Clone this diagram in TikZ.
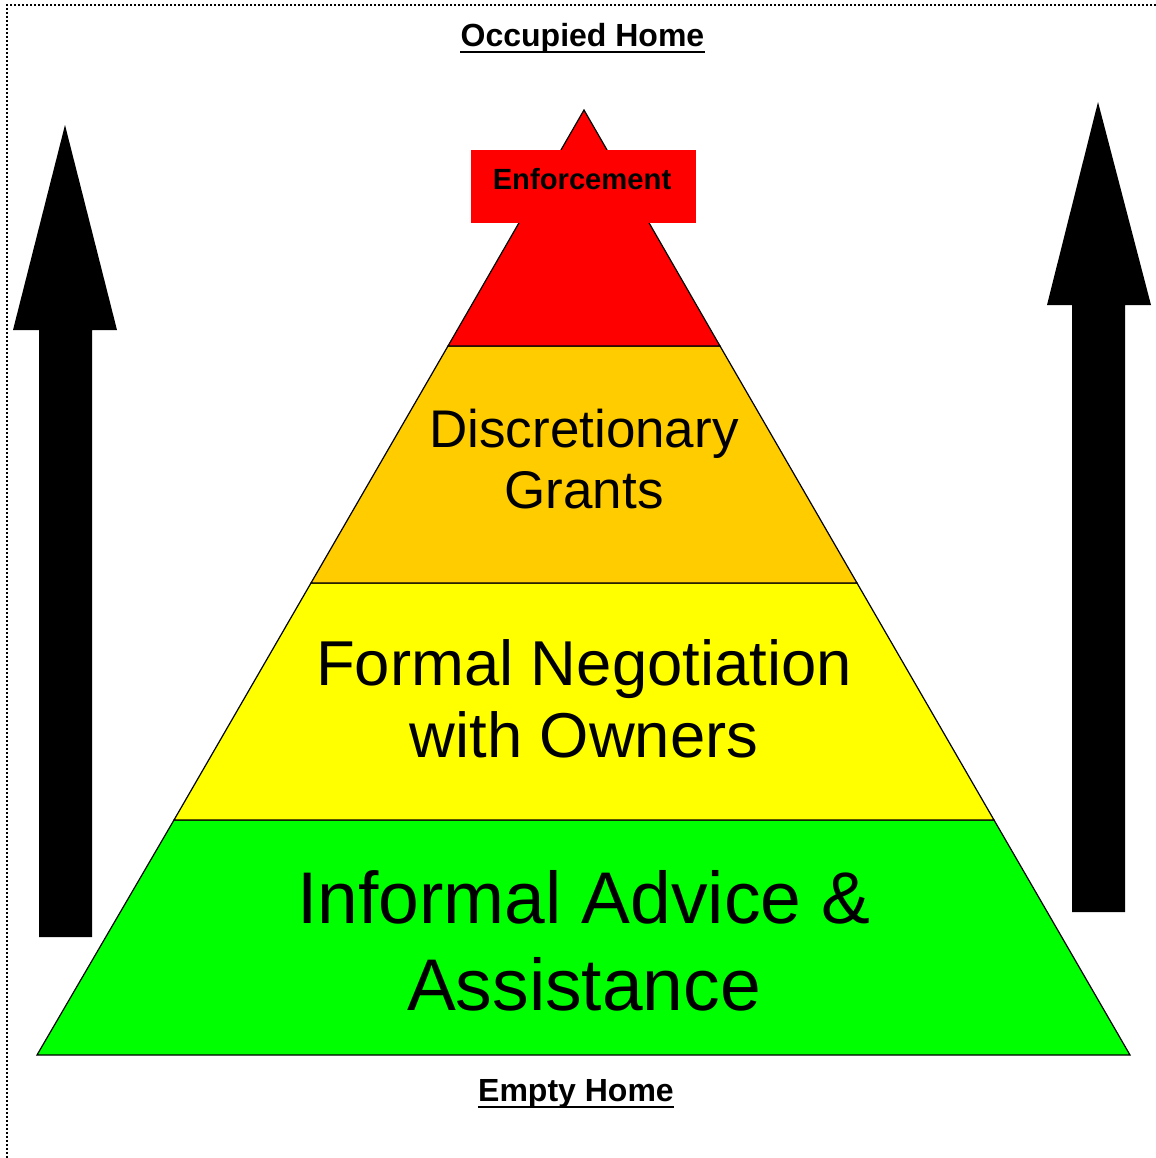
\documentclass[tikz,border=0pt]{standalone}
\usepackage{fontspec}
\setmainfont{Liberation Sans}
\definecolor{cred}{HTML}{FF0000}
\definecolor{corange}{HTML}{FFCC00}
\definecolor{cyellow}{HTML}{FFFF00}
\definecolor{cgreen}{HTML}{00FF00}
\begin{document}
\begin{tikzpicture}[x=0.5pt,y=-0.5pt,
  layer/.style={draw=black,line width=0.6pt,line join=miter},
  bigarrow/.style={fill=black,draw=none},
  titletext/.style={font=\fontsize{16}{19}\selectfont\bfseries,anchor=base,inner sep=0pt},
  ulline/.style={line width=1.2pt},
  lvltext/.style={anchor=base,inner sep=0pt,text=black}]
\useasboundingbox (0,0) rectangle (1156,1158);
% border
\draw[line width=0.8pt,dash pattern=on 0.8pt off 1.2pt] (1156,5) -- (7,5) -- (7,1158);
% pyramid layers
\fill[cgreen,layer] (37,1055) -- (1130,1055) -- (994,820) -- (174,820) -- cycle;
\fill[cyellow,layer] (174,820) -- (994,820) -- (857,583) -- (311,583) -- cycle;
\fill[corange,layer] (311,583) -- (857,583) -- (720,346) -- (448,346) -- cycle;
\fill[cred,layer] (448,346) -- (720,346) -- (584,110) -- cycle;
% enforcement box
\node[fill=cred,minimum width=112.5pt,minimum height=36.5pt,inner sep=0pt] (enfbox) at (583.5,186.5) {};
\node[lvltext,font=\fontsize{14.6}{17}\selectfont\bfseries] (enf) at (582,189) {Enforcement};
% level texts
\node[lvltext,font=\fontsize{26.5}{30}\selectfont] (dg1) at (584,447) {Discretionary};
\node[lvltext,font=\fontsize{26.5}{30}\selectfont] (dg2) at (584,508) {Grants};
\node[lvltext,font=\fontsize{31.7}{36}\selectfont] (fn1) at (584,685) {Formal Negotiation};
\node[lvltext,font=\fontsize{31.7}{36}\selectfont] (fn2) at (584,757) {with Owners};
\node[lvltext,font=\fontsize{36.6}{42}\selectfont] (ia1) at (584,923) {Informal Advice \&};
\node[lvltext,font=\fontsize{36.6}{42}\selectfont] (ia2) at (584,1010) {Assistance};
% titles
\node[titletext] (top) at (582.5,46) {Occupied Home};
\draw[ulline] ([yshift=-3pt]top.base west) -- ([yshift=-3pt]top.base east);
\node[titletext] (bot) at (576,1101) {Empty Home};
\draw[ulline] ([yshift=-3pt]bot.base west) -- ([yshift=-3pt]bot.base east);
% arrows
\fill[bigarrow] (65,125) -- (117,330) -- (92,330) -- (92,937) -- (39,937) -- (39,330) -- (13,330) -- cycle;
\fill[bigarrow] (1098,102) -- (1151,305) -- (1125,305) -- (1125,912) -- (1072,912) -- (1072,305) -- (1047,305) -- cycle;
\end{tikzpicture}
\end{document}
